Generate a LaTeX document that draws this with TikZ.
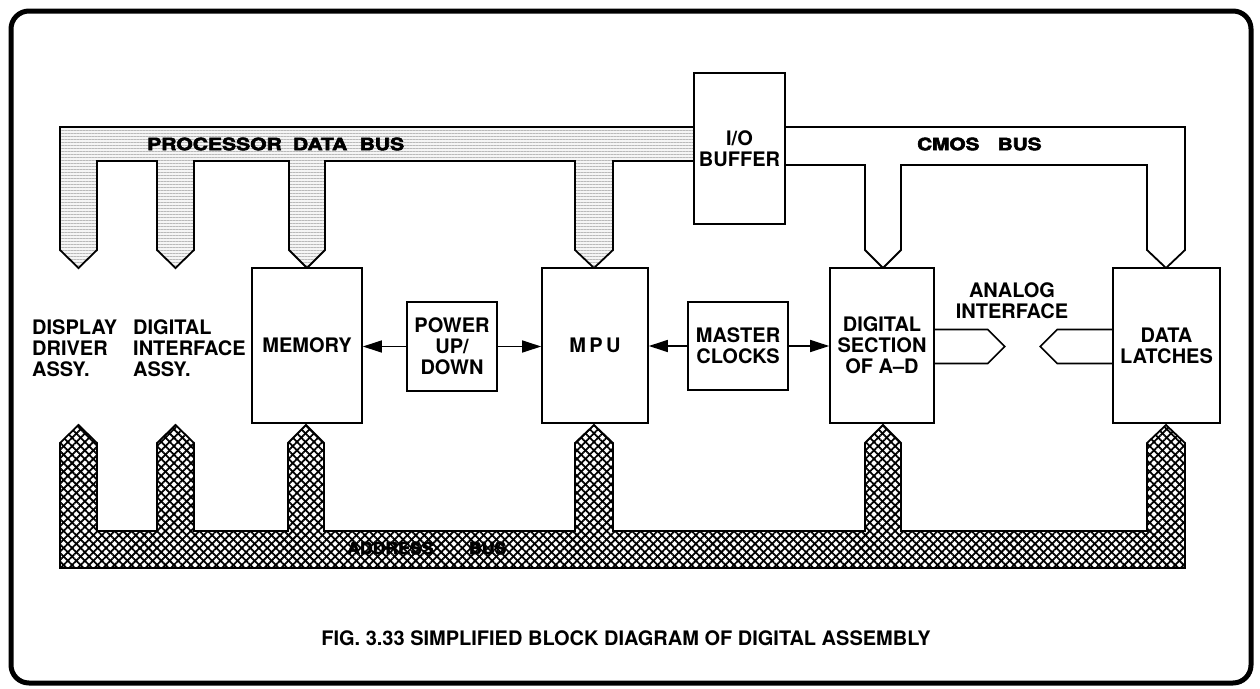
\documentclass[tikz,border=0pt]{standalone}
\usepackage{fontspec}
\setmainfont{TeX Gyre Heros}
\newfontfamily\busfont[FakeBold=3]{TeX Gyre Heros Bold}
\usetikzlibrary{arrows.meta,patterns.meta,calc}
\begin{document}
\begin{tikzpicture}[x=1pt,y=-1pt,
  lbl/.style={font=\fontsize{20}{21}\selectfont\bfseries, inner sep=0pt, align=center},
  blk/.style={draw, line width=1.6pt, fill=white, inner sep=0pt, lbl},
  arr/.style={line width=1.4pt, -{Triangle[length=19pt,width=12pt]}},
  busline/.style={line width=1.8pt, line join=miter},
  buslbl/.style={font=\fontsize{17}{18}\busfont, inner sep=0pt, anchor=west}
]
\useasboundingbox (0,0) rectangle (1260,688);
% frame
\draw[line width=5pt, rounded corners=18pt] (11,11) rectangle (1251,683);

% processor data bus
\def\datapath{(60,127) -- (694,127) -- (694,161) -- (613,161) -- (613,250) -- (594,268) -- (575,250) -- (575,161) -- (325,161) -- (325,250) -- (307,268) -- (289,250) -- (289,161) -- (194,161) -- (194,250) -- (175.5,268) -- (157,250) -- (157,161) -- (97,161) -- (97,250) -- (78.5,268) -- (60,250) -- cycle}
\path[fill=gray!8] \datapath;
\path[pattern={Lines[angle=0,distance=3pt,line width=0.5pt]}, pattern color=gray!55] \datapath;
\draw[busline] (694,127) -- (60,127) -- (60,250) -- (78.5,268) -- (97,250) -- (97,161) -- (157,161) -- (157,250) -- (175.5,268) -- (194,250) -- (194,161) -- (289,161) -- (289,250) -- (307,268) -- (325,250) -- (325,161) -- (575,161) -- (575,250) -- (594,268) -- (613,250) -- (613,161) -- (694,161);
\node[buslbl] (pdb) at (147,144) {\scalebox{1.24}[1]{PROCESSOR\hspace{9pt}DATA\hspace{10pt}BUS}};

% CMOS bus
\draw[busline] (785,127) -- (1185,127) -- (1185,250) -- (1166,268) -- (1147,250) -- (1147,165) -- (901,165) -- (901,250) -- (883,268) -- (865,250) -- (865,165) -- (785,165);
\node[buslbl] (cmos) at (917,144) {\scalebox{1.22}[1]{CMOS\hspace{15pt}BUS}};

% address bus
\def\addrpath{(60,568) -- (1185,568) -- (1185,443) -- (1166,425) -- (1147,443) -- (1147,531) -- (901,531) -- (901,443) -- (883,425) -- (865,443) -- (865,531) -- (613,531) -- (613,443) -- (594,425) -- (575,443) -- (575,531) -- (324,531) -- (324,443) -- (306,425) -- (288,443) -- (288,531) -- (194,531) -- (194,443) -- (175.5,425) -- (157,443) -- (157,531) -- (97,531) -- (97,443) -- (78.5,425) -- (60,443) -- cycle}
\path[pattern={Lines[angle=45,distance=6pt,line width=1.8pt]}, pattern color=black] \addrpath;
\path[pattern={Lines[angle=-45,distance=6pt,line width=1.8pt]}, pattern color=black] \addrpath;
\draw[busline] \addrpath;
\node[buslbl] (addr) at (347,548) {\scalebox{1.04}[1]{ADDRESS\hspace{34pt}BUS}};

% blocks
\node[blk, minimum width=110pt, minimum height=155pt] (mem) at (307,345.5) {MEMORY};
\node[blk, minimum width=106pt, minimum height=155pt] (mpu) at (595,345.5) {M\,P\,U};
\node[blk, minimum width=90pt, minimum height=89pt] (pwr) at (452,346.5) {POWER\\UP/\\DOWN};
\node[blk, minimum width=100pt, minimum height=88pt] (mclk) at (738,346) {MASTER\\CLOCKS};
\node[blk, minimum width=104pt, minimum height=155pt] (dig) at (882,345.5) {DIGITAL\\SECTION\\OF A–D};
\node[blk, minimum width=107pt, minimum height=155pt] (latch) at (1166.5,345.5) {DATA\\LATCHES};
\node[blk, minimum width=91pt, minimum height=151pt] (io) at (739.5,148.5) {I/O\\BUFFER};

% side labels
\node[lbl, align=left, anchor=north west] (disp) at (32,319) {DISPLAY\\DRIVER\\ASSY.};
\node[lbl, align=left, anchor=north west] (difa) at (133,319) {DIGITAL\\INTERFACE\\ASSY.};
\node[lbl] (ana) at (1012,301) {ANALOG\\INTERFACE};

% arrows
\draw[arr] (pwr.west) -- (pwr.west -| mem.east);
\draw[arr] (pwr.east) -- (pwr.east -| mpu.west);
\draw[arr] (mclk.west) -- (mclk.west -| mpu.east);
\draw[arr] (mclk.east) -- (mclk.east -| dig.west);

% analog interface
\draw[line width=1.6pt] ([yshift=16pt]dig.east) -- ++(53,0) -- ++(17,17) -- ++(-17,17) -- ([yshift=-18pt]dig.east);
\draw[line width=1.6pt] ([yshift=16pt]latch.west) -- ++(-55,0) -- ++(-17,17) -- ++(17,17) -- ([yshift=-18pt]latch.west);

% caption
\node[lbl] (cap) at (626,638) {FIG. 3.33 SIMPLIFIED BLOCK DIAGRAM OF DIGITAL ASSEMBLY};
\end{tikzpicture}
\end{document}
